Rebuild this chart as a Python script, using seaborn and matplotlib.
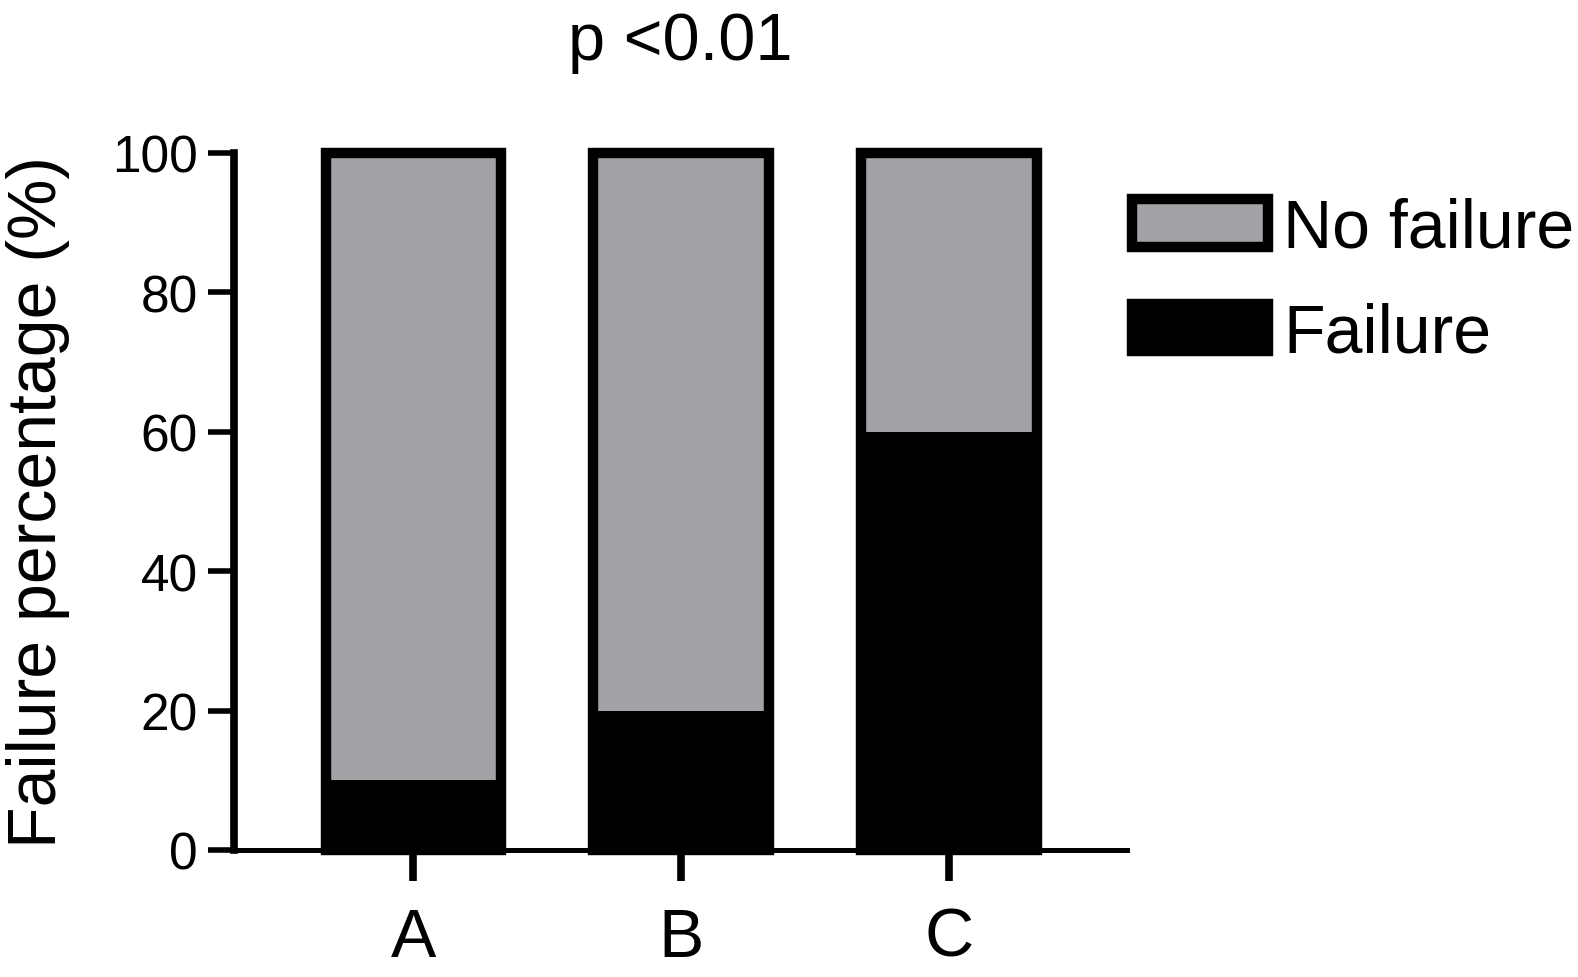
"""
Stacked bar chart of failure percentage per group (A, B, C).
"""

import matplotlib
matplotlib.use("Agg")
import matplotlib.pyplot as plt
import seaborn as sns

# data
groups = ["A", "B", "C"]
failure = [10, 20, 60]
no_failure = [90, 80, 40]
totals = [f + n for f, n in zip(failure, no_failure)]

gray = "#a3a2a7"

sns.set_style("ticks", {"axes.edgecolor": "black", "xtick.color": "black",
                        "ytick.color": "black", "text.color": "black",
                        "axes.labelcolor": "black"})
plt.rcParams["font.family"] = ["Liberation Sans", "DejaVu Sans"]

W, H = 1578, 978
fig = plt.figure(figsize=(W / 100, H / 100), dpi=100)
ax = fig.add_axes([234 / W, 1 - 851 / H, (1127 - 234) / W, (851 - 154) / H])

# full-height gray bars with thick black outline, failure part painted on top
sns.barplot(x=groups, y=totals, color=gray, edgecolor="black", linewidth=7.5,
            width=0.655, saturation=1, label="No failure", ax=ax)
sns.barplot(x=groups, y=failure, color="black", linewidth=0,
            width=0.655, saturation=1, label="Failure", ax=ax)
for p in ax.patches:
    p.set_clip_on(False)

ax.set_ylim(0, 100)
ax.set_xlim(-0.67, 2.665)
ax.set_yticks([0, 20, 40, 60, 80, 100])
ax.set_xlabel("")
ax.set_ylabel("Failure percentage (%)", fontsize=49, labelpad=30)
ax.set_title("p <0.01", fontsize=48, pad=68)

sns.despine(ax=ax)
ax.spines["left"].set_linewidth(5.5)
ax.spines["bottom"].set_linewidth(3.6)
ax.tick_params(axis="y", labelsize=37, width=4, length=19, pad=7)
ax.tick_params(axis="x", labelsize=49, width=5.5, length=22, pad=18)

leg = ax.legend(loc="upper left", bbox_to_anchor=(1132 / W, 1 - 198 / H),
                bbox_transform=fig.transFigure, frameon=False, fontsize=49,
                handlelength=2.0, handleheight=0.7, handletextpad=0.22,
                labelspacing=0.59, borderaxespad=0, borderpad=0)
fail_handle = leg.legend_handles[1]
fail_handle.set_edgecolor("black")
fail_handle.set_linewidth(7.5)

fig.savefig("out.png", dpi=100)
plt.close(fig)
